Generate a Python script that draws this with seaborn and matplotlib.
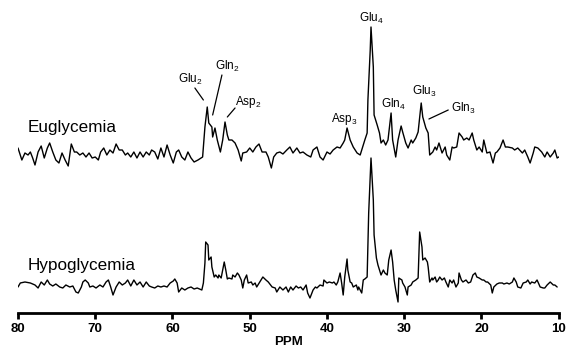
import numpy as np
import pandas as pd
import matplotlib
matplotlib.use("Agg")
import matplotlib.pyplot as plt
import seaborn as sns

# ---- data (chemical shift in ppm, intensity in arbitrary units) ----
eu_ppm = [80.0, 79.7, 79.5, 79.1, 78.7, 78.4, 78.1, 77.8, 77.4, 77.0, 76.6, 76.2, 75.9, 75.5, 75.1, 74.7,
          74.3, 73.9, 73.5, 73.1, 72.7, 72.4, 72.0, 71.6, 71.2, 70.8, 70.4, 70.0, 69.6, 69.3, 68.9, 68.5,
          68.1, 67.7, 67.3, 66.9, 66.5, 66.1, 65.8, 65.4, 65.0, 64.6, 64.2, 63.8, 63.4, 63.0, 62.7, 62.3,
          61.9, 61.5, 61.1, 60.7, 60.3, 59.9, 59.5, 59.2, 58.8, 58.4, 58.0, 57.6, 57.2, 56.7, 56.1, 55.8,
          55.5, 55.3, 54.9, 54.8, 54.5, 54.2, 53.8, 53.5, 53.2, 52.9, 52.7, 52.3, 51.9, 51.5, 51.1, 50.9,
          50.4, 50.0, 49.6, 49.2, 48.8, 48.4, 47.9, 47.6, 47.2, 46.9, 46.5, 46.1, 45.7, 45.2, 44.8, 44.4,
          43.9, 43.5, 43.1, 42.6, 42.1, 41.8, 41.3, 40.9, 40.5, 40.0, 39.6, 39.2, 38.7, 38.3, 37.9, 37.7,
          37.4, 37.0, 36.6, 36.1, 35.7, 35.3, 35.1, 34.8, 34.7, 34.4, 34.3, 34.0, 33.9, 33.5, 33.2, 33.0,
          32.7, 32.4, 32.1, 31.7, 31.5, 31.1, 30.8, 30.4, 30.2, 29.8, 29.5, 29.1, 28.9, 28.5, 28.2, 27.8,
          27.6, 27.2, 26.9, 26.7, 26.3, 26.0, 25.8, 25.5, 25.1, 24.7, 24.5, 24.1, 23.8, 23.6, 23.2, 22.9,
          22.5, 22.3, 21.9, 21.6, 21.2, 21.0, 20.6, 20.3, 19.9, 19.7, 19.3, 18.9, 18.5, 18.2, 18.0, 17.6,
          17.2, 16.9, 16.6, 16.0, 15.7, 15.3, 14.7, 14.4, 14.0, 13.7, 13.3, 13.1, 12.7, 12.2, 11.8, 11.5,
          11.1, 10.7, 10.5, 10.2, 10.0]
eu_int = [7, 0, -5, 2, 0, 3, -3, -10, 3, 9, -3, 7, 12, 3, -5, -8,
          2, -5, -11, 11, 3, 3, 0, 2, -2, 2, -3, -2, -5, 3, 7, 0,
          5, 2, 11, 5, 5, 0, 2, -2, 3, -3, 3, -2, 3, 0, 5, 3,
          -4, 7, -2, 10, 0, -8, 3, 5, -2, -5, 3, -3, -7, -5, -2, 28,
          48, 32, 28, 18, 27, 15, 3, 15, 33, 20, 15, 15, 12, 5, -6, 2,
          3, 7, 3, 8, 11, 3, 3, -2, -13, -2, 2, 3, 1, 5, 8, 2,
          7, 2, 3, 0, -2, 5, 8, -2, -5, 3, 1, 5, 8, 7, 12, 15,
          27, 15, 8, 2, 0, 10, 15, 22, 55, 105, 128, 88, 40, 30, 22, 12,
          15, 10, 15, 42, 15, -2, 15, 29, 23, 12, 7, 15, 12, 17, 23, 52,
          38, 27, 22, 0, 3, 8, 5, 12, 2, 8, 0, -5, 8, 7, 8, 22,
          18, 15, 17, 15, 22, 15, 5, 8, 3, 15, 2, 3, -8, 2, 3, 7,
          15, 8, 8, 7, 5, 7, 2, 5, -2, -8, 2, 8, 7, 3, -2, 3,
          -2, 2, 5, -3, -2]

hypo_ppm = [80.0, 79.7, 79.1, 78.4, 77.8, 77.4, 77.0, 76.6, 76.2, 75.9, 75.5, 75.1, 74.6, 74.2, 73.8, 73.3,
            72.9, 72.5, 72.2, 71.8, 71.6, 71.3, 70.9, 70.7, 70.3, 69.9, 69.4, 69.0, 68.6, 68.3, 68.0, 67.7,
            67.3, 66.9, 66.5, 66.1, 65.8, 65.4, 65.0, 64.6, 64.2, 63.8, 63.4, 63.0, 62.7, 62.3, 61.9, 61.5,
            61.1, 60.7, 60.3, 59.9, 59.7, 59.4, 59.2, 58.8, 58.4, 58.0, 57.6, 57.2, 56.8, 56.2, 56.0, 55.8,
            55.7, 55.4, 55.3, 55.0, 54.9, 54.6, 54.4, 54.1, 54.0, 53.7, 53.5, 53.3, 53.1, 52.9, 52.7, 52.3,
            52.2, 51.9, 51.6, 51.4, 51.1, 50.9, 50.7, 50.4, 50.2, 49.8, 49.6, 49.3, 49.1, 48.7, 48.3, 47.9,
            47.6, 47.1, 46.7, 46.5, 46.1, 45.7, 45.3, 45.0, 44.7, 44.4, 44.0, 43.7, 43.4, 43.1, 42.7, 42.5,
            42.2, 41.8, 41.5, 41.3, 40.9, 40.5, 40.4, 40.0, 39.7, 39.3, 39.1, 38.8, 38.6, 38.3, 38.1, 37.9,
            37.7, 37.4, 37.3, 37.0, 36.8, 36.6, 36.2, 36.0, 35.9, 35.5, 35.3, 35.1, 34.8, 34.7, 34.6, 34.3,
            34.0, 33.9, 33.6, 33.4, 33.0, 32.7, 32.5, 32.2, 32.0, 31.7, 31.5, 31.3, 31.1, 30.8, 30.7, 30.3,
            30.2, 29.9, 29.6, 29.5, 29.1, 28.9, 28.5, 28.2, 28.0, 27.7, 27.6, 27.3, 27.0, 26.9, 26.7, 26.4,
            26.3, 26.0, 25.8, 25.6, 25.4, 25.1, 24.8, 24.6, 24.3, 24.1, 23.8, 23.6, 23.3, 23.0, 22.9, 22.6,
            22.4, 22.0, 21.7, 21.4, 21.1, 20.8, 20.6, 20.3, 19.9, 19.7, 19.4, 19.2, 18.8, 18.6, 18.4, 18.0,
            17.7, 17.3, 17.1, 16.7, 16.4, 16.0, 15.8, 15.5, 15.3, 14.9, 14.6, 14.2, 14.0, 13.7, 13.5, 13.1,
            12.8, 12.4, 12.0, 11.8, 11.5, 11.1, 10.7, 10.5, 10.2]
hypo_int = [0, 4, 5, 4, 2, -1, 5, 2, 7, 3, 1, 3, 0, -1, 2, 0,
            1, -5, -6, 0, 5, 7, 4, 0, 1, -1, 2, 0, 5, 7, 0, -8,
            0, 5, 2, 4, 7, 1, 7, 2, 5, 0, 5, 1, 0, -1, 1, 0,
            1, 0, 4, 6, 8, 4, -5, -1, -3, -1, 0, -2, -1, -3, 4, 24,
            45, 42, 27, 30, 20, 10, 12, 9, 12, 9, 17, 25, 17, 8, 9, 8,
            12, 10, 14, 12, 7, -1, 7, 12, 4, 5, 2, 4, 0, 5, 10, 7,
            5, 0, -1, -5, 0, -3, 0, -5, 0, -3, 1, -1, 0, -3, 2, -6,
            -11, -3, 0, -1, 2, 1, 7, 4, 5, 4, 5, 2, 5, 14, 4, -8,
            10, 28, 17, 5, 4, 0, 2, -3, 0, -6, 7, 8, 10, 40, 74, 129,
            87, 52, 29, 22, 12, 17, 14, 12, 27, 37, 25, 7, -3, -15, 9, 7,
            4, 0, -8, 0, 2, 5, 7, 9, 55, 40, 27, 29, 25, 20, 5, 9,
            7, 10, 5, 7, 10, 7, 9, 5, 0, 7, 4, 7, 0, 4, 14, 7,
            5, 7, 4, 5, 12, 14, 10, 9, 7, 7, 5, 5, 2, -6, 0, 3,
            4, 4, 3, 4, 3, 5, 9, 5, 0, -1, 4, 5, 7, 3, 5, 4,
            7, 0, -1, -1, 2, 5, 2, 2, 0]

series_names = ["Euglycemia", "Hypoglycemia"]
offsets = [132, 0]  # vertical stacking of the two spectra

peak_labels = ["Glu$_2$", "Gln$_2$", "Asp$_2$", "Asp$_3$", "Glu$_4$", "Gln$_4$", "Glu$_3$", "Gln$_3$"]
label_ppm = [59.3, 54.5, 51.9, 39.5, 35.85, 33.0, 29.0, 24.0]
label_y = [204, 217, 182, 165, 265, 179, 192, 175]
# leader lines: (ppm0, y0, ppm1, y1)
leaders = [(57.1, 199, 56.0, 187), (53.6, 212, 54.8, 172), (51.9, 179, 52.9, 170),
           (24.3, 177, 26.8, 168)]

xticks = [80, 70, 60, 50, 40, 30, 20, 10]

# ---- build table ----
df = pd.concat([
    pd.DataFrame({"ppm": eu_ppm, "y": np.array(eu_int) + offsets[0], "series": series_names[0]}),
    pd.DataFrame({"ppm": hypo_ppm, "y": np.array(hypo_int) + offsets[1], "series": series_names[1]}),
], ignore_index=True)

sns.set_style("white")
plt.rcParams["font.family"] = ["Liberation Sans", "DejaVu Sans"]
plt.rcParams["mathtext.default"] = "regular"
plt.rcParams["text.color"] = "black"
plt.rcParams["axes.labelcolor"] = "black"
plt.rcParams["xtick.color"] = "black"

fig = plt.figure(figsize=(5.66, 3.51), dpi=100)
ax = fig.add_axes([18 / 566, 38 / 351, 540.7 / 566, 303 / 351])

sns.lineplot(data=df, x="ppm", y="y", hue="series", units="series", estimator=None,
             sort=False, palette=["black", "black"], linewidth=1.0, legend=False, ax=ax)

ax.set_xlim(80, 10)
ax.set_ylim(-26, 277)

for s in ["left", "right", "top"]:
    ax.spines[s].set_visible(False)
ax.spines["bottom"].set_linewidth(2.0)
ax.spines["bottom"].set_color("black")
ax.set_yticks([])
ax.set_xticks(xticks)
ax.set_xticklabels([str(t) for t in xticks], fontsize=9.5, fontweight="bold", color="black")
ax.tick_params(axis="x", direction="out", length=4, width=2, color="black", labelcolor="black",
               pad=3, bottom=True)
ax.set_xlabel("PPM", fontsize=9.5, fontweight="bold", labelpad=1, color="black")
ax.set_ylabel("")

# series names
ax.text(78.7, offsets[0] + 23, series_names[0], fontsize=12.3, ha="left", va="baseline", color="black")
ax.text(78.7, offsets[1] + 17, series_names[1], fontsize=12.3, ha="left", va="baseline", color="black")

# peak annotations
for lab, px, py in zip(peak_labels, label_ppm, label_y):
    ax.text(px, py, lab, fontsize=8.5, ha="left", va="baseline", color="black")
for (x0, y0, x1, y1) in leaders:
    ax.plot([x0, x1], [y0, y1], color="black", lw=0.9)

fig.savefig("out.png", dpi=100)
